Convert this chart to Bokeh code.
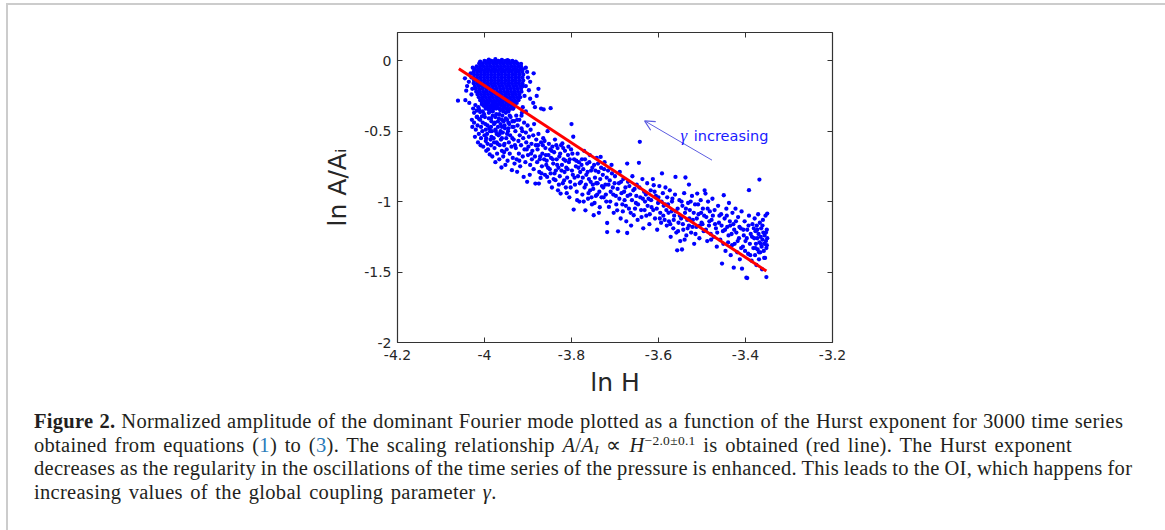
from bokeh.plotting import figure
from bokeh.models import Range1d, LinearAxis, FixedTicker, Label, Arrow, OpenHead, Div
from bokeh.layouts import column
from bokeh.embed import file_html
from bokeh.resources import INLINE

# ---------------- data ----------------
x_ticks = [-4.2, -4.0, -3.8, -3.6, -3.4, -3.2]
x_tick_labels = ["-4.2", "-4", "-3.8", "-3.6", "-3.4", "-3.2"]
y_ticks = [-2.0, -1.5, -1.0, -0.5, 0.0]
y_tick_labels = ["-2", "-1.5", "-1", "-0.5", "0"]

# solid core of the cloud: one row of ln H values per ln A/A_I level
core_row_y = [-0.002, -0.020, -0.040, -0.060, -0.080, -0.100, -0.120, -0.140, -0.160,
              -0.180, -0.200, -0.220, -0.240, -0.260, -0.280, -0.300, -0.320, -0.340]
core_row_x = [
    [-4.000, -3.992, -3.984, -3.976, -3.968, -3.960, -3.952, -3.944, -3.936],
    [-4.012, -4.004, -3.996, -3.988, -3.980, -3.972, -3.964, -3.956, -3.948, -3.940, -3.932, -3.924],
    [-4.018, -4.010, -4.002, -3.994, -3.986, -3.978, -3.970, -3.962, -3.954, -3.946, -3.938, -3.930, -3.922, -3.916],
    [-4.022, -4.014, -4.006, -3.998, -3.990, -3.982, -3.974, -3.966, -3.958, -3.950, -3.942, -3.934, -3.926, -3.918, -3.912],
    [-4.025, -4.017, -4.009, -4.001, -3.993, -3.985, -3.977, -3.969, -3.961, -3.953, -3.945, -3.937, -3.929, -3.921, -3.913],
    [-4.024, -4.016, -4.008, -4.000, -3.992, -3.984, -3.976, -3.968, -3.960, -3.952, -3.944, -3.936, -3.928, -3.920, -3.911],
    [-4.025, -4.017, -4.009, -4.001, -3.993, -3.985, -3.977, -3.969, -3.961, -3.953, -3.945, -3.937, -3.929, -3.921, -3.913],
    [-4.024, -4.016, -4.008, -4.000, -3.992, -3.984, -3.976, -3.968, -3.960, -3.952, -3.944, -3.936, -3.928, -3.920, -3.911],
    [-4.025, -4.017, -4.009, -4.001, -3.993, -3.985, -3.977, -3.969, -3.961, -3.953, -3.945, -3.937, -3.929, -3.921, -3.913],
    [-4.022, -4.014, -4.006, -3.998, -3.990, -3.982, -3.974, -3.966, -3.958, -3.950, -3.942, -3.934, -3.926, -3.918, -3.911],
    [-4.020, -4.012, -4.004, -3.996, -3.988, -3.980, -3.972, -3.964, -3.956, -3.948, -3.940, -3.932, -3.924, -3.916],
    [-4.019, -4.011, -4.003, -3.995, -3.987, -3.979, -3.971, -3.963, -3.955, -3.947, -3.939, -3.931, -3.923, -3.915],
    [-4.016, -4.008, -4.000, -3.992, -3.984, -3.976, -3.968, -3.960, -3.952, -3.944, -3.936, -3.928, -3.920],
    [-4.013, -4.005, -3.997, -3.989, -3.981, -3.973, -3.965, -3.957, -3.949, -3.941, -3.933, -3.925, -3.918],
    [-4.010, -4.002, -3.994, -3.986, -3.978, -3.970, -3.962, -3.954, -3.946, -3.938, -3.930, -3.922],
    [-4.006, -3.998, -3.990, -3.982, -3.974, -3.966, -3.958, -3.950, -3.942, -3.934, -3.926],
    [-4.002, -3.994, -3.986, -3.978, -3.970, -3.962, -3.954, -3.946, -3.938, -3.930],
    [-3.997, -3.989, -3.981, -3.973, -3.965, -3.957, -3.949, -3.941, -3.934],
]

# scattered points around the core
halo_points = [
    (-4.061, -0.284), (-4.044, -0.280), (-4.042, -0.213), (-4.040, -0.180), (-4.036, -0.150),
    (-4.045, -0.125), (-4.032, -0.090), (-4.030, -0.240), (-4.035, -0.300), (-4.028, -0.200),
    (-4.030, -0.120), (-4.027, -0.050), (-4.021, -0.315), (-4.026, -0.340), (-4.017, -0.398),
    (-4.024, -0.370), (-4.029, -0.420), (-3.990, 0.008), (-3.975, 0.010), (-3.960, 0.006),
    (-3.947, 0.004), (-4.010, -0.006), (-3.928, -0.006), (-3.916, -0.022), (-3.905, -0.050),
    (-3.902, -0.080), (-3.887, -0.090), (-3.900, -0.120), (-3.895, -0.150), (-3.905, -0.180),
    (-3.898, -0.210), (-3.908, -0.250), (-3.895, -0.270), (-3.888, -0.300), (-3.884, -0.330),
    (-3.870, -0.340), (-3.864, -0.346), (-3.912, -0.330), (-3.905, -0.360), (-3.915, -0.390),
    (-3.848, -0.337), (-3.876, -0.200), (-3.880, -0.250),
    (-4.014, -0.330), (-4.010, -0.365), (-4.006, -0.395), (-4.018, -0.355), (-4.012, -0.415),
]

# dense part below the core
lower_points = [
    (-4.028, -0.47), (-4.024, -0.44), (-4.020, -0.49), (-4.016, -0.46), (-4.013, -0.52), (-4.010, -0.42),
    (-4.008, -0.55), (-4.005, -0.50), (-4.003, -0.61), (-4.001, -0.38), (-3.998, -0.45), (-3.997, -0.57),
    (-3.995, -0.33), (-3.994, -0.52), (-3.992, -0.63), (-3.990, -0.41), (-3.989, -0.48), (-3.987, -0.36),
    (-3.986, -0.56), (-3.985, -0.60), (-3.984, -0.43), (-3.983, -0.50), (-3.982, -0.68), (-3.982, -0.32),
    (-3.981, -0.39), (-4.012, -0.35), (-4.018, -0.40), (-4.006, -0.31), (-4.000, -0.53), (-3.996, -0.64),
    (-4.015, -0.58), (-4.022, -0.54), (-3.988, -0.665), (-3.993, -0.59), (-4.009, -0.60), (-3.991, -0.345),
    (-3.999, -0.40), (-3.985, -0.47), (-3.997, -0.49), (-4.004, -0.44),
    (-3.979, -0.55), (-3.978, -0.34), (-3.977, -0.62), (-3.976, -0.44), (-3.975, -0.72), (-3.974, -0.50),
    (-3.973, -0.38), (-3.972, -0.58), (-3.971, -0.66), (-3.970, -0.31), (-3.969, -0.47), (-3.968, -0.53),
    (-3.967, -0.41), (-3.966, -0.70), (-3.965, -0.60), (-3.964, -0.35), (-3.963, -0.45), (-3.962, -0.56),
    (-3.961, -0.758), (-3.960, -0.64), (-3.959, -0.39), (-3.958, -0.51), (-3.957, -0.68), (-3.956, -0.43),
    (-3.955, -0.33), (-3.954, -0.59), (-3.953, -0.48), (-3.952, -0.74), (-3.951, -0.37), (-3.950, -0.55),
    (-3.949, -0.63), (-3.948, -0.42), (-3.947, -0.71), (-3.946, -0.50), (-3.945, -0.36), (-3.944, -0.58),
    (-3.943, -0.45), (-3.942, -0.66), (-3.941, -0.53), (-3.940, -0.40), (-3.938, -0.61), (-3.937, -0.777),
    (-3.936, -0.47), (-3.935, -0.69), (-3.934, -0.34), (-3.933, -0.56), (-3.932, -0.43), (-3.931, -0.73),
    (-3.975, -0.40), (-3.965, -0.52), (-3.955, -0.65), (-3.945, -0.44), (-3.970, -0.59), (-3.960, -0.47),
    (-3.998, -0.32), (-3.990, -0.37), (-3.985, -0.41), (-3.978, -0.45), (-3.972, -0.33), (-3.966, -0.38),
    (-3.960, -0.42), (-3.954, -0.46), (-3.948, -0.35), (-3.942, -0.39), (-3.936, -0.43), (-3.993, -0.46),
    (-3.987, -0.50), (-3.981, -0.36), (-3.975, -0.49), (-3.969, -0.43), (-3.963, -0.50), (-3.957, -0.36),
    (-3.951, -0.41), (-3.945, -0.48), (-3.939, -0.34), (-3.933, -0.47), (-4.004, -0.36), (-4.008, -0.47),
    (-3.996, -0.55), (-3.984, -0.54), (-3.972, -0.52), (-3.960, -0.55), (-3.948, -0.52), (-3.936, -0.55),
    (-3.925, -0.42), (-3.930, -0.60), (-3.955, -0.60), (-3.978, -0.58),
    (-3.929, -0.50), (-3.928, -0.62), (-3.927, -0.39), (-3.926, -0.70), (-3.925, -0.789), (-3.924, -0.46),
    (-3.922, -0.57), (-3.921, -0.66), (-3.920, -0.42), (-3.919, -0.53), (-3.918, -0.75), (-3.916, -0.60),
    (-3.915, -0.48), (-3.914, -0.37), (-3.912, -0.68), (-3.911, -0.55), (-3.910, -0.825), (-3.909, -0.44),
    (-3.908, -0.63), (-3.906, -0.72), (-3.905, -0.51), (-3.904, -0.58), (-3.902, -0.86), (-3.901, -0.46),
    (-3.900, -0.67), (-3.899, -0.61), (-3.898, -0.54), (-3.896, -0.81), (-3.895, -0.74), (-3.894, -0.49),
    (-3.892, -0.59), (-3.891, -0.70), (-3.890, -0.64), (-3.888, -0.53), (-3.887, -0.77), (-3.886, -0.45),
    (-3.884, -0.68), (-3.883, -0.872), (-3.882, -0.60), (-3.881, -0.56), (-3.920, -0.71), (-3.913, -0.50),
    (-3.903, -0.63), (-3.893, -0.66),
]

# the long tail of the cloud towards larger ln H
tail_points = [
    (-3.879, -0.72), (-3.878, -0.63), (-3.876, -0.52), (-3.875, -0.872), (-3.874, -0.79), (-3.872, -0.68),
    (-3.871, -0.832), (-3.870, -0.58), (-3.868, -0.75), (-3.867, -0.66), (-3.865, -0.55), (-3.863, -0.70),
    (-3.861, -0.81), (-3.860, -0.62), (-3.858, -0.74), (-3.856, -0.825), (-3.855, -0.50), (-3.853, -0.67),
    (-3.852, -0.59), (-3.850, -0.77), (-3.848, -0.80), (-3.847, -0.69), (-3.845, -0.90), (-3.844, -0.61),
    (-3.842, -0.73), (-3.840, -0.65), (-3.838, -0.56), (-3.837, -0.848), (-3.836, -0.78), (-3.834, -0.70),
    (-3.832, -0.62), (-3.831, -0.92), (-3.830, -0.76), (-3.866, -0.60), (-3.857, -0.71), (-3.846, -0.64),
    (-3.839, -0.80),
    (-3.828, -0.68), (-3.827, -0.82), (-3.825, -0.943), (-3.824, -0.60), (-3.822, -0.74), (-3.821, -0.587),
    (-3.820, -0.87), (-3.818, -0.70), (-3.816, -0.79), (-3.815, -0.64), (-3.813, -0.90), (-3.812, -0.76),
    (-3.810, -0.83), (-3.808, -0.67), (-3.806, -0.72), (-3.805, -0.97), (-3.803, -0.86), (-3.801, -0.63),
    (-3.800, -0.45), (-3.799, -0.78), (-3.797, -0.81), (-3.796, -0.54), (-3.795, -1.057), (-3.794, -0.70),
    (-3.792, -0.88), (-3.790, -0.75), (-3.788, -0.93), (-3.786, -0.66), (-3.785, -0.82), (-3.783, -0.72),
    (-3.782, -1.00), (-3.780, -0.79),
    (-3.778, -0.86), (-3.776, -0.70), (-3.775, -0.95), (-3.773, -0.77), (-3.771, -0.64), (-3.770, -0.90),
    (-3.768, -1.062), (-3.766, -0.81), (-3.764, -0.73), (-3.762, -0.98), (-3.760, -0.84), (-3.758, -0.67),
    (-3.757, -0.92), (-3.755, -0.78), (-3.753, -1.02), (-3.751, -0.88), (-3.749, -1.097), (-3.748, -0.74),
    (-3.746, -0.83), (-3.744, -0.96), (-3.742, -0.69), (-3.740, -0.87), (-3.738, -0.79), (-3.736, -0.93),
    (-3.735, -1.04), (-3.733, -0.683), (-3.732, -0.76), (-3.730, -0.89),
    (-3.728, -0.81), (-3.726, -0.97), (-3.724, -0.72), (-3.722, -0.88), (-3.720, -1.00), (-3.718, -1.152),
    (-3.718, -1.216), (-3.716, -0.78), (-3.714, -1.038), (-3.712, -0.85), (-3.710, -0.93), (-3.708, -0.74),
    (-3.705, -0.90), (-3.703, -1.08), (-3.700, -0.82), (-3.698, -0.96), (-3.695, -1.062), (-3.693, -1.211),
    (-3.691, -0.87), (-3.689, -0.79), (-3.687, -1.12), (-3.685, -0.94), (-3.683, -1.02), (-3.681, -0.84),
    (-3.678, -0.99), (-3.676, -0.90), (-3.674, -1.14), (-3.672, -0.73), (-3.672, -1.223), (-3.670, -0.86),
    (-3.668, -1.05), (-3.665, -0.95), (-3.663, -1.17), (-3.660, -0.82), (-3.657, -1.097), (-3.655, -0.91),
    (-3.652, -1.01), (-3.650, -0.88), (-3.648, -1.13), (-3.645, -0.725), (-3.643, -0.576), (-3.642, -0.97),
    (-3.640, -1.06), (-3.637, -0.84), (-3.635, -1.19), (-3.633, -0.93), (-3.631, -1.00),
    (-3.628, -1.10), (-3.626, -0.87), (-3.623, -0.98), (-3.621, -1.16), (-3.618, -0.92), (-3.616, -1.04),
    (-3.613, -0.84), (-3.611, -0.884), (-3.608, -1.12), (-3.606, -0.96), (-3.603, -1.20), (-3.601, -1.01),
    (-3.598, -0.89), (-3.596, -1.08), (-3.594, -1.15), (-3.592, -0.80), (-3.590, -0.94), (-3.588, -1.03),
    (-3.586, -1.13), (-3.584, -0.90), (-3.582, -1.06), (-3.580, -0.97),
    (-3.578, -1.02), (-3.576, -1.14), (-3.574, -0.92), (-3.572, -1.25), (-3.570, -1.07), (-3.568, -0.98),
    (-3.566, -1.19), (-3.564, -1.10), (-3.562, -0.95), (-3.561, -0.825), (-3.559, -1.22), (-3.557, -1.346),
    (-3.556, -1.05), (-3.554, -1.15), (-3.552, -0.99), (-3.550, -1.28), (-3.548, -1.12), (-3.546, -1.34),
    (-3.545, -1.03), (-3.543, -1.20), (-3.541, -0.94), (-3.539, -1.08), (-3.538, -0.829), (-3.536, -1.24),
    (-3.534, -1.13), (-3.532, -1.01), (-3.530, -0.879), (-3.530, -1.17),
    (-3.528, -1.06), (-3.525, -1.22), (-3.523, -0.96), (-3.521, -1.13), (-3.518, -1.30), (-3.516, -1.02),
    (-3.513, -1.18), (-3.511, -0.943), (-3.508, -1.09), (-3.506, -1.26), (-3.503, -0.99), (-3.501, -1.15),
    (-3.498, -1.05), (-3.496, -1.21), (-3.494, -0.92), (-3.492, -0.943), (-3.490, -1.11), (-3.488, -1.28),
    (-3.486, -1.00), (-3.484, -1.17), (-3.482, -1.07), (-3.480, -1.23),
    (-3.478, -1.13), (-3.476, -0.98), (-3.473, -1.25), (-3.471, -1.06), (-3.468, -1.19), (-3.466, -1.32),
    (-3.463, -1.03), (-3.461, -1.15), (-3.458, -1.27), (-3.456, -1.09), (-3.454, -1.44), (-3.452, -1.21),
    (-3.450, -0.955), (-3.448, -1.12), (-3.446, -1.35), (-3.444, -1.05), (-3.442, -1.18), (-3.440, -1.29),
    (-3.438, -1.01), (-3.436, -1.14), (-3.434, -1.38), (-3.432, -1.23), (-3.430, -1.08),
    (-3.428, -1.16), (-3.427, -1.469), (-3.425, -1.30), (-3.423, -1.05), (-3.421, -1.22), (-3.419, -1.36),
    (-3.417, -1.11), (-3.415, -1.26), (-3.413, -1.41), (-3.411, -1.19), (-3.409, -1.07), (-3.408, -1.476),
    (-3.406, -1.32), (-3.404, -1.24), (-3.402, -1.14), (-3.400, -1.28), (-3.398, -1.54), (-3.396, -1.543),
    (-3.396, -1.20), (-3.394, -1.37), (-3.392, -0.919), (-3.392, -1.10), (-3.390, -1.30), (-3.388, -1.23),
    (-3.386, -1.42), (-3.384, -1.16), (-3.382, -1.33), (-3.380, -1.26),
    (-3.379, -1.12), (-3.378, -1.38), (-3.377, -1.21), (-3.376, -1.30), (-3.375, -1.45), (-3.374, -1.17),
    (-3.373, -1.26), (-3.372, -1.34), (-3.371, -1.09), (-3.370, -1.23), (-3.369, -1.41), (-3.368, -0.844),
    (-3.368, -1.29), (-3.367, -1.15), (-3.366, -1.36), (-3.365, -1.25), (-3.364, -1.19), (-3.363, -1.32),
    (-3.362, -1.48), (-3.361, -1.27), (-3.360, -1.13), (-3.359, -1.22), (-3.358, -1.35), (-3.357, -1.30),
    (-3.356, -1.24), (-3.355, -1.40), (-3.354, -1.10), (-3.353, -1.28), (-3.352, -1.536), (-3.352, -1.33),
    (-3.351, -1.20), (-3.350, -1.085), (-3.350, -1.26), (-3.351, -1.31),
]

# further points that fill out the band
band_points = [
    (-3.877, -0.60), (-3.873, -0.70), (-3.869, -0.80), (-3.862, -0.57), (-3.859, -0.67), (-3.854, -0.76),
    (-3.851, -0.86), (-3.849, -0.63), (-3.843, -0.70), (-3.841, -0.84), (-3.835, -0.60), (-3.833, -0.74),
    (-3.829, -0.88), (-3.826, -0.66), (-3.823, -0.78), (-3.819, -0.62), (-3.817, -0.85), (-3.814, -0.71),
    (-3.811, -0.94), (-3.809, -0.77), (-3.807, -0.61), (-3.804, -0.70), (-3.802, -0.90), (-3.798, -0.66),
    (-3.793, -0.83), (-3.789, -0.71), (-3.787, -0.99), (-3.784, -0.76), (-3.781, -0.87),
    (-3.777, -0.74), (-3.774, -0.83), (-3.772, -1.00), (-3.769, -0.70), (-3.767, -0.88), (-3.763, -0.79),
    (-3.761, -0.94), (-3.759, -0.72), (-3.756, -0.86), (-3.754, -0.97), (-3.752, -0.76), (-3.750, -0.91),
    (-3.747, -1.01), (-3.745, -0.78), (-3.743, -0.87), (-3.741, -0.95), (-3.739, -0.73), (-3.737, -1.08),
    (-3.734, -0.84), (-3.731, -0.97), (-3.727, -0.90), (-3.725, -0.77), (-3.721, -0.95), (-3.719, -0.83),
    (-3.715, -0.88), (-3.711, -1.00), (-3.707, -0.80), (-3.704, -0.95), (-3.701, -0.87),
    (-3.697, -1.02), (-3.694, -0.91), (-3.690, -0.98), (-3.686, -0.86), (-3.682, -1.07), (-3.679, -0.93),
    (-3.675, -1.03), (-3.671, -0.96), (-3.667, -0.89), (-3.664, -1.08), (-3.661, -0.99), (-3.658, -0.92),
    (-3.654, -1.05), (-3.651, -0.96), (-3.647, -1.02), (-3.644, -0.90), (-3.639, -1.11), (-3.636, -0.98),
    (-3.632, -1.06), (-3.629, -0.95), (-3.625, -1.03), (-3.620, -1.09), (-3.617, -0.99), (-3.612, -1.06),
    (-3.609, -0.93), (-3.604, -1.05), (-3.600, -0.97),
    (-3.597, -1.12), (-3.593, -1.00), (-3.589, -1.10), (-3.585, -1.02), (-3.581, -1.17), (-3.577, -1.08),
    (-3.573, -1.16), (-3.569, -1.00), (-3.565, -1.13), (-3.560, -1.07), (-3.555, -1.21), (-3.551, -1.10),
    (-3.547, -1.00), (-3.544, -1.16), (-3.540, -1.27), (-3.537, -1.05), (-3.533, -1.19), (-3.529, -1.12),
    (-3.526, -1.00), (-3.522, -1.18), (-3.519, -1.08), (-3.515, -1.23), (-3.512, -1.12), (-3.509, -1.02),
    (-3.505, -1.17), (-3.502, -1.08),
    (-3.499, -1.16), (-3.495, -1.10), (-3.491, -1.20), (-3.487, -1.05), (-3.483, -1.14), (-3.479, -1.27),
    (-3.475, -1.10), (-3.470, -1.16), (-3.465, -1.22), (-3.460, -1.10), (-3.455, -1.17), (-3.451, -1.30),
    (-3.447, -1.20), (-3.443, -1.10), (-3.439, -1.24), (-3.435, -1.17), (-3.431, -1.31), (-3.426, -1.20),
    (-3.422, -1.14), (-3.418, -1.28), (-3.414, -1.18), (-3.410, -1.33), (-3.405, -1.20), (-3.401, -1.35),
    (-3.397, -1.26), (-3.393, -1.17), (-3.389, -1.38), (-3.385, -1.25), (-3.381, -1.19), (-3.377, -1.33),
    (-3.373, -1.20), (-3.369, -1.36), (-3.365, -1.30), (-3.361, -1.17), (-3.357, -1.40), (-3.353, -1.22),
]

# fitted scaling law A/A_I ~ H^-2.0 (red line end points)
fit_ln_h = [-4.059, -3.352]
fit_ln_a = [-0.057, -1.493]

# ---------------- assemble ----------------
ln_h = [x for row_y, row in zip(core_row_y, core_row_x) for x in row]
ln_a = [row_y for row_y, row in zip(core_row_y, core_row_x) for _ in row]
for group in (halo_points, lower_points, tail_points, band_points):
    ln_h += [pt[0] for pt in group]
    ln_a += [pt[1] for pt in group]

AX = "#333333"
TXT = "#262626"
FONT = "DejaVu Sans"

p = figure(width=1152, height=404, output_backend="svg", toolbar_location=None,
           x_range=Range1d(-4.2, -3.2), y_range=Range1d(-2.0, 0.2),
           min_border_left=389, min_border_right=328, min_border_top=27,
           min_border_bottom=67, x_axis_location=None, y_axis_location=None)
p.grid.visible = False
p.outline_line_color = AX
p.outline_line_width = 1.2
p.background_fill_color = "white"
p.border_fill_color = "white"


def style_axis(ax, ticks, labels, show_labels):
    ax.ticker = FixedTicker(ticks=ticks)
    ax.major_label_overrides = {t: s for t, s in zip(ticks, labels)}
    ax.axis_line_color = None
    ax.major_tick_line_color = AX
    ax.major_tick_line_width = 1
    ax.major_tick_in = 5
    ax.major_tick_out = 0
    ax.minor_tick_line_color = None
    ax.major_label_text_font = FONT
    ax.major_label_text_font_size = "14px"
    ax.major_label_text_color = TXT if show_labels else None
    ax.major_label_standoff = 6 if show_labels else 0
    ax.axis_label_text_font = FONT
    ax.axis_label_text_font_size = "25px"
    ax.axis_label_text_font_style = "normal"
    ax.axis_label_text_color = TXT


bottom = LinearAxis(axis_label="ln H")
style_axis(bottom, x_ticks, x_tick_labels, True)
bottom.major_label_standoff = 7
bottom.axis_label_standoff = 5
top = LinearAxis()
style_axis(top, x_ticks, x_tick_labels, False)
top.major_label_text_font_size = "6px"
left = LinearAxis(axis_label="ln A/A\u1d62")
style_axis(left, y_ticks, y_tick_labels, True)
left.axis_label_standoff = 9
right = LinearAxis()
style_axis(right, y_ticks, y_tick_labels, False)
right.major_label_text_font_size = "6px"
p.add_layout(bottom, "below")
p.add_layout(top, "above")
p.add_layout(left, "left")
p.add_layout(right, "right")

p.scatter(ln_h, ln_a, size=4.3, fill_color="#0000ff", line_color=None)
p.line(fit_ln_h, fit_ln_a, line_color="#ff0000", line_width=3)

p.add_layout(Arrow(x_start=-3.477, y_start=-0.706, x_end=-3.632, y_end=-0.427,
                   line_color="#5c5ce0", line_width=1,
                   end=OpenHead(size=10, line_color="#5c5ce0", line_width=1.2)))
p.add_layout(Label(x=-3.5494, y=-0.533, text="γ", text_font="Liberation Serif",
                   text_font_style="italic", text_font_size="17px",
                   text_color="#1a1aff", text_baseline="alphabetic"))
p.add_layout(Label(x=-3.5189, y=-0.533, text="increasing", text_font=FONT,
                   text_font_size="14.5px", text_color="#1a1aff",
                   text_baseline="alphabetic"))

blue = "color:#2b7bb9"
caption_html = (
    '<div style="font-family:\'Liberation Serif\',serif; font-size:20.5px; line-height:23.5px;'
    ' letter-spacing:0.3px; color:#231f20; white-space:nowrap; margin-left:21px; margin-top:-4px;">'
    '<span style="word-spacing:0.5px"><b>Figure 2.</b> Normalized amplitude of the dominant Fourier '
    'mode plotted as a function of the Hurst exponent for 3000 time series</span><br>'
    f'<span style="word-spacing:2.2px">obtained from equations (<span style="{blue}">1</span>) to '
    f'(<span style="{blue}">3</span>). The scaling relationship <i>A</i>/<i>A<span '
    'style="font-size:13px;line-height:0;vertical-align:-2px">I</span></i> &#8733; '
    '<i>H</i><span style="font-size:13.5px;line-height:0;vertical-align:7px">&#8722;2.0&#177;0.1</span> '
    'is obtained (red line). The Hurst exponent</span><br>'
    '<span style="word-spacing:-0.6px">decreases as the regularity in the oscillations of the time '
    'series of the pressure is enhanced. This leads to the OI, which happens for</span><br>'
    '<span style="word-spacing:2px">increasing values of the global coupling parameter '
    '<i>&#947;</i>.</span>'
    '</div>'
)
caption = Div(text=caption_html, width=1152, height=112)

layout = column(p, caption, styles={"border-left": "2px solid #cccccc",
                                    "border-right": "2px solid #cccccc",
                                    "border-top": "2px solid #cccccc",
                                    "margin-left": "6px", "margin-top": "3px"})

open("out.html", "w").write(file_html(layout, INLINE))
